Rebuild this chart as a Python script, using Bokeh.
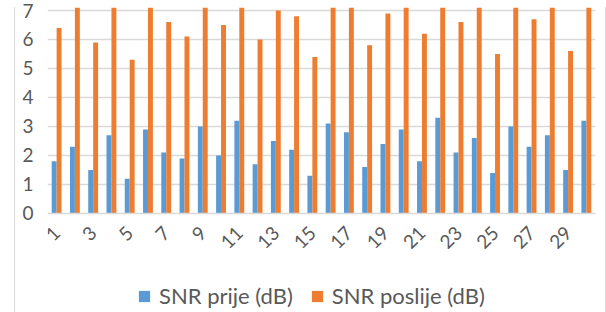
import math
from bokeh.plotting import figure
from bokeh.models import ColumnDataSource, FixedTicker, Legend, LegendItem, Range1d
from bokeh.transform import dodge
from bokeh.embed import file_html
from bokeh.resources import INLINE

categories = list(range(1, 31))
snr_prije = [1.8, 2.3, 1.5, 2.7, 1.2, 2.9, 2.1, 1.9, 3.0, 2.0,
             3.2, 1.7, 2.5, 2.2, 1.3, 3.1, 2.8, 1.6, 2.4, 2.9,
             1.8, 3.3, 2.1, 2.6, 1.4, 3.0, 2.3, 2.7, 1.5, 3.2]
snr_poslije = [6.4, 7.5, 5.9, 7.5, 5.3, 7.5, 6.6, 6.1, 7.5, 6.5,
               7.5, 6.0, 7.0, 6.8, 5.4, 7.5, 7.5, 5.8, 6.9, 7.5,
               6.2, 7.5, 6.6, 7.5, 5.5, 7.5, 6.7, 7.5, 5.6, 7.5]
y_ticks = [0, 1, 2, 3, 4, 5, 6, 7]
x_ticks = [1, 3, 5, 7, 9, 11, 13, 15, 17, 19, 21, 23, 25, 27, 29]
series_names = ["SNR prije (dB)", "SNR poslije (dB)"]

BLUE = "#5B9BD5"
ORANGE = "#ED7D31"
GRAY_TXT = "#595959"
GRID = "#D9D9D9"
FONT = "Lato"

src = ColumnDataSource(dict(x=categories, prije=snr_prije, poslije=snr_poslije))

# frame spans the whole lower area; the category axis sits at y = 0 inside it
p = figure(width=606, height=312, output_backend="svg", toolbar_location=None,
           x_range=Range1d(0.5, 30.5), y_range=Range1d(-3.414, 7.103),
           min_border_left=47, min_border_right=11, min_border_top=7, min_border_bottom=0)
p.outline_line_color = None
p.background_fill_color = "white"
p.border_fill_color = None
p.styles = {
    "background": "linear-gradient(#D9D9D9,#D9D9D9) 14px 7px / 1px 305px no-repeat, "
                  "linear-gradient(#D9D9D9,#D9D9D9) 605px 7px / 1px 305px no-repeat, white"
}

bw = 0.27
r1 = p.vbar(x=dodge("x", -bw / 2), top="prije", width=bw, source=src,
            fill_color=BLUE, line_color=None)
r2 = p.vbar(x=dodge("x", bw / 2), top="poslije", width=bw, source=src,
            fill_color=ORANGE, line_color=None)

p.xgrid.grid_line_color = None
p.ygrid.grid_line_color = GRID
p.ygrid.grid_line_width = 1.5
p.ygrid.ticker = FixedTicker(ticks=y_ticks[1:])

p.yaxis.ticker = FixedTicker(ticks=y_ticks)
p.yaxis.axis_line_color = None
p.yaxis.major_tick_line_color = None
p.yaxis.minor_tick_line_color = None
p.yaxis.major_label_text_font = FONT
p.yaxis.major_label_text_font_size = "19px"
p.yaxis.major_label_text_color = GRAY_TXT
p.yaxis.major_label_standoff = 8

p.xaxis.fixed_location = 0
p.xaxis.ticker = FixedTicker(ticks=x_ticks)
p.xaxis.axis_line_color = GRID
p.xaxis.axis_line_width = 1.5
p.xaxis.major_tick_line_color = None
p.xaxis.minor_tick_line_color = None
p.xaxis.major_label_text_font = FONT
p.xaxis.major_label_text_font_size = "19px"
p.xaxis.major_label_text_color = GRAY_TXT
p.xaxis.major_label_orientation = math.pi / 4
p.xaxis.major_label_standoff = 10

legend = Legend(items=[LegendItem(label=series_names[0], renderers=[r1]),
                       LegendItem(label=series_names[1], renderers=[r2])],
                orientation="horizontal", location=(90, 3))
legend.label_text_font = FONT
legend.label_text_font_size = "22px"
legend.label_text_color = GRAY_TXT
legend.glyph_width = 14
legend.glyph_height = 14
legend.spacing = 17
legend.label_standoff = 8
legend.padding = 0
legend.margin = 0
legend.border_line_color = None
legend.background_fill_alpha = 0
p.add_layout(legend, "center")

open("out.html", "w").write(file_html(p, INLINE))
